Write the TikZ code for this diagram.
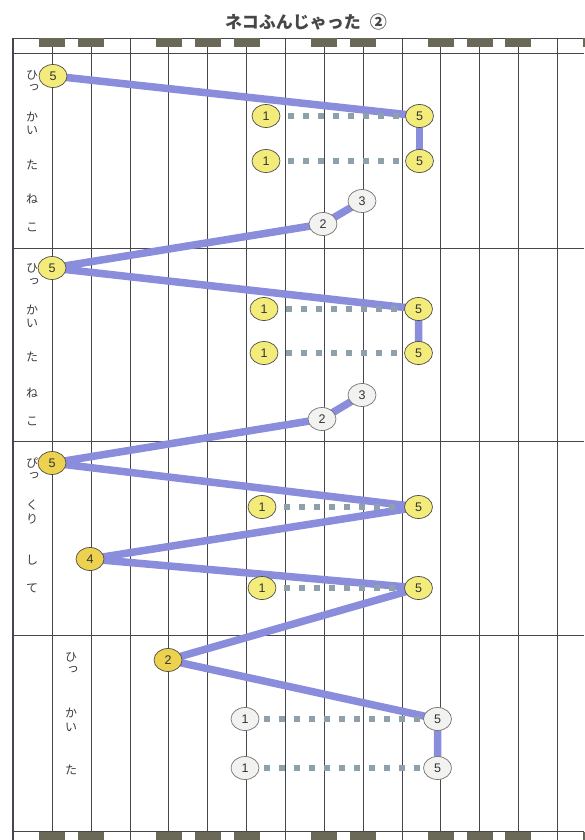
\documentclass[tikz,border=0pt]{standalone}
\usepackage{fontspec}
\setmainfont{Liberation Sans}
\newfontfamily\jp{Noto Sans CJK JP}
\usetikzlibrary{shapes.geometric}
\pgfdeclarelayer{bg}
\pgfsetlayers{bg,main}
\definecolor{gridc}{RGB}{70,70,78}
\definecolor{keyc}{RGB}{106,104,86}
\definecolor{bluel}{RGB}{138,140,220}
\definecolor{dotc}{RGB}{142,160,172}
\definecolor{ylw}{RGB}{244,236,122}
\definecolor{gold}{RGB}{236,210,78}
\definecolor{wht}{RGB}{242,243,240}
\definecolor{txtc}{RGB}{60,60,60}
\begin{document}
\begin{tikzpicture}[x=1pt,y=-1pt,
 nd/.style={ellipse,minimum width=28pt,minimum height=23pt,inner sep=0pt,draw=black!70,line width=0.7pt,font=\fontsize{12.5}{12.5}\selectfont,text=black!80},
 ny/.style={nd,fill=ylw},
 ng/.style={nd,fill=gold},
 nw/.style={nd,fill=wht,draw=black!55},
 link/.style={draw=bluel,line width=7.5pt,line join=round},
 dots/.style={draw=dotc,line width=6pt,dash pattern=on 6pt off 9pt,dash phase=7pt},
 lyr/.style={font=\jp\fontsize{12}{12}\selectfont,text=txtc,inner sep=0pt},
 gridl/.style={draw=gridc,line width=0.8pt},
 keyblk/.style={fill=keyc}]
\useasboundingbox (0,0) rectangle (584,840);
\begin{pgfonlayer}{bg}
\fill[white] (0,0) rectangle (584,840);
% grid
\foreach \i in {1,...,14} {
  \draw[gridl] ({13.4+38.85*\i},38) -- ({13.4+38.85*\i},840);
}
\draw[gridc,line width=1.2pt] (13,38) -- (13,840);
\foreach \yy in {38,53,248,441,635,831} {
  \draw[gridl] (13,\yy) -- (584,\yy);
}
\foreach \i in {1,2,4,5,6,8,9,11,12,13,15} {
  \fill[keyblk] ({13.4+38.85*\i-13},38.5) rectangle ({13.4+38.85*\i+13},47);
  \fill[keyblk] ({13.4+38.85*\i-13},831.5) rectangle ({13.4+38.85*\i+13},840);
}
\end{pgfonlayer}
% title
\node[font=\jp\bfseries\fontsize{17}{17}\selectfont,text=black!72] (title) at (306,22) {ネコふんじゃった\hspace{9pt}②};
% lyrics section 1
\node[lyr] (l1a) at (32,75) {ひ};
\node[lyr] (l1b) at (34,88) {っ};
\node[lyr] (l1c) at (32,117) {か};
\node[lyr] (l1d) at (32,130) {い};
\node[lyr] (l1e) at (32,165) {た};
\node[lyr] (l1f) at (32,199) {ね};
\node[lyr] (l1g) at (32,227) {こ};
% section 2
\node[lyr] (l2a) at (32,268) {ひ};
\node[lyr] (l2b) at (34,282) {っ};
\node[lyr] (l2c) at (32,310) {か};
\node[lyr] (l2d) at (32,323) {い};
\node[lyr] (l2e) at (32,357) {た};
\node[lyr] (l2f) at (32,393) {ね};
\node[lyr] (l2g) at (32,421) {こ};
% section 3
\node[lyr] (l3a) at (32,463) {ぴ};
\node[lyr] (l3b) at (34,476) {っ};
\node[lyr] (l3c) at (32,505) {く};
\node[lyr] (l3d) at (32,519) {り};
\node[lyr] (l3e) at (32,560) {し};
\node[lyr] (l3f) at (32,588) {て};
% section 4
\node[lyr] (l4a) at (71,657) {ひ};
\node[lyr] (l4b) at (73,670) {っ};
\node[lyr] (l4c) at (71,713) {か};
\node[lyr] (l4d) at (71,727) {い};
\node[lyr] (l4e) at (71,770) {た};
% nodes section 1
\node[ny] (a1) at (53,76) {5};
\node[ny] (a2) at (266,116) {1};
\node[ny] (a3) at (419.5,116) {5};
\node[ny] (a4) at (266,161) {1};
\node[ny] (a5) at (419.5,161) {5};
\node[nw] (a6) at (362,201) {3};
\node[nw] (a7) at (323,224) {2};
% section 2
\node[ny] (b1) at (52,268) {5};
\node[ny] (b2) at (264,309) {1};
\node[ny] (b3) at (418.5,309) {5};
\node[ny] (b4) at (264,353) {1};
\node[ny] (b5) at (418.5,353) {5};
\node[nw] (b6) at (362,395) {3};
\node[nw] (b7) at (322,419) {2};
% section 3
\node[ng] (c1) at (52,463) {5};
\node[ny] (c2) at (262,507) {1};
\node[ny] (c3) at (418.5,507) {5};
\node[ng] (c4) at (90,559) {4};
\node[ny] (c5) at (262,588) {1};
\node[ny] (c6) at (418.5,588) {5};
% section 4
\node[ng] (d1) at (168,660) {2};
\node[nw] (d2) at (245,719) {1};
\node[nw] (d3) at (437.5,719) {5};
\node[nw] (d4) at (245,768) {1};
\node[nw] (d5) at (437.5,768) {5};
% connectors
\begin{pgfonlayer}{bg}
\draw[link] (a1.center) -- (a3.center);
\draw[link] (a3.center) -- (a5.center);
\draw[link] (a6.center) -- (a7.center) -- (b1.center) -- (b3.center) -- (b5.center);
\draw[link] (b6.center) -- (b7.center) -- (c1.center) -- (c3.center) -- (c4.center) -- (c6.center) -- (d1.center) -- (d3.center) -- (d5.center);
\end{pgfonlayer}
\draw[dots] (a2.east) -- (a3.west);
\draw[dots] (a4.east) -- (a5.west);
\draw[dots] (b2.east) -- (b3.west);
\draw[dots] (b4.east) -- (b5.west);
\draw[dots] (c2.east) -- (c3.west);
\draw[dots] (c5.east) -- (c6.west);
\draw[dots,dash phase=10pt] (d2.east) -- (d3.west);
\draw[dots,dash phase=10pt] (d4.east) -- (d5.west);
\end{tikzpicture}
\end{document}
